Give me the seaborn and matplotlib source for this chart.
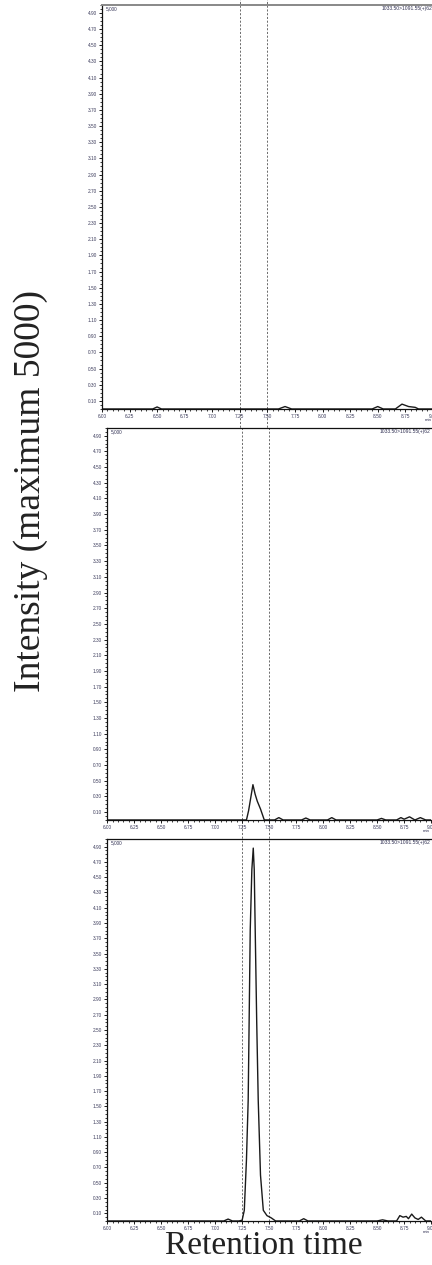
import numpy as np
import pandas as pd
import matplotlib
matplotlib.use("Agg")
import matplotlib.pyplot as plt
import seaborn as sns
from matplotlib.ticker import MultipleLocator, FixedLocator

sns.set_style("white")
plt.rcParams["font.family"] = ["Liberation Sans", "DejaVu Sans"]

# retention time (min) and intensity (thousands) for each trace
t_top = [6.00, 6.46, 6.50, 6.54, 7.60, 7.66, 7.72, 8.45, 8.50, 8.55, 8.66, 8.72,
         8.78, 8.81, 8.84, 8.87, 8.92, 9.00]
i_top = [0.0, 0.0, 0.025, 0.0, 0.0, 0.03, 0.0, 0.0, 0.03, 0.0, 0.0, 0.06,
         0.03, 0.025, 0.02, 0.0, 0.0, 0.0]

t_mid = [6.00, 7.29, 7.31, 7.35, 7.37, 7.39, 7.42, 7.455, 7.55, 7.59, 7.63, 7.80,
         7.84, 7.88, 8.04, 8.08, 8.12, 8.50, 8.54, 8.58, 8.68, 8.72, 8.75, 8.80,
         8.85, 8.90, 8.95, 9.00]
i_mid = [0.0, 0.0, 0.12, 0.45, 0.33, 0.24, 0.14, 0.0, 0.0, 0.03, 0.0, 0.0,
         0.025, 0.0, 0.0, 0.03, 0.0, 0.0, 0.02, 0.0, 0.0, 0.03, 0.01, 0.04,
         0.0, 0.03, 0.0, 0.0]

t_bot = [6.00, 7.08, 7.12, 7.16, 7.22, 7.25, 7.27, 7.29, 7.306, 7.325, 7.34, 7.353,
         7.362, 7.371, 7.385, 7.399, 7.42, 7.446, 7.48, 7.52, 7.56, 7.78, 7.82, 7.86,
         8.50, 8.55, 8.60, 8.68, 8.71, 8.74, 8.77, 8.79, 8.82, 8.85, 8.88, 8.91,
         8.95, 9.00]
i_bot = [0.0, 0.0, 0.025, 0.0, 0.0, 0.01, 0.14, 0.8, 1.58, 3.81, 4.6, 4.88,
         4.6, 3.81, 2.6, 1.58, 0.6, 0.14, 0.07, 0.04, 0.0, 0.0, 0.03, 0.0,
         0.0, 0.015, 0.0, 0.0, 0.07, 0.05, 0.06, 0.03, 0.09, 0.04, 0.02, 0.05,
         0.0, 0.0]

x_ticks = [6.00, 6.25, 6.50, 6.75, 7.00, 7.25, 7.50, 7.75, 8.00, 8.25, 8.50, 8.75, 9.00]
y_ticks = [0.10, 0.30, 0.50, 0.70, 0.90, 1.10, 1.30, 1.50, 1.70, 1.90, 2.10, 2.30,
           2.50, 2.70, 2.90, 3.10, 3.30, 3.50, 3.70, 3.90, 4.10, 4.30, 4.50, 4.70, 4.90]
window = [7.25, 7.50]
channel = "1033.50>1091.55(+)62"

traces = [(t_top, i_top), (t_mid, i_mid), (t_bot, i_bot)]
# [left, bottom, width, height] in figure fraction
boxes = [[0.236, 0.6767, 0.766, 0.3195],
         [0.248, 0.3518, 0.750, 0.3100],
         [0.248, 0.0348, 0.750, 0.3020]]

fig = plt.figure(figsize=(4.32, 12.65), dpi=100)

for k, ((t, y), box) in enumerate(zip(traces, boxes)):
    ax = fig.add_axes(box)
    df = pd.DataFrame({"time": t, "intensity": y})
    sns.lineplot(data=df, x="time", y="intensity", ax=ax, color="#1a1a1a",
                 linewidth=1.0, estimator=None)
    ax.set_xlim(6.0, 9.0)
    ax.set_ylim(0.0, 5.0)
    ax.set_xlabel("")
    ax.set_ylabel("")

    ax.xaxis.set_major_locator(FixedLocator(x_ticks))
    ax.xaxis.set_minor_locator(MultipleLocator(0.05))
    ax.yaxis.set_major_locator(FixedLocator(y_ticks))
    ax.yaxis.set_minor_locator(MultipleLocator(0.05))
    ax.set_xticklabels([f"{v:.2f}" for v in x_ticks])
    ax.set_yticklabels([f"{v:.2f}" for v in y_ticks])
    ax.tick_params(which="major", direction="out", length=2.5, width=0.7,
                   labelsize=3.4, pad=1.0, colors="#1a1a1a", labelcolor="#3a3a5a",
                   bottom=True, left=True)
    ax.tick_params(which="minor", direction="out", length=1.3, width=0.6,
                   colors="#1a1a1a", bottom=True, left=True)

    for side in ["left", "bottom", "top"]:
        ax.spines[side].set_color("#111111")
        ax.spines[side].set_linewidth(0.9)
    ax.spines["right"].set_visible(False)
    if k == 0:
        ax.spines["top"].set_color("#888888")
        ax.spines["top"].set_linewidth(1.4)

    ax.text(0.012, 0.997, "5,000", transform=ax.transAxes, fontsize=3.4,
            va="top", ha="left", color="#333355")
    ax.text(0.998, 0.997, channel, transform=ax.transAxes, fontsize=3.6,
            va="top", ha="right", color="#333355")
    ax.annotate("min", xy=(1.0, 0.0), xycoords="axes fraction",
                xytext=(-6, -9), textcoords="offset points", fontsize=3.2,
                color="#333355", annotation_clip=False)

    top = 1.02 if k == 0 else 1.0
    low = 0.0 if k == 2 else -0.055
    for w in window:
        ax.axvline(w, ymin=low, ymax=top, color="#555555", linewidth=0.6,
                   linestyle=(0, (2.5, 2)), clip_on=False, zorder=0)

fig.text(0.072, 0.612, "Intensity (maximum 5000)", rotation=90,
         fontsize=27, family="Liberation Serif", ha="center", va="center",
         color="#222222")
fig.text(0.61, 0.003, "Retention time", fontsize=24, family="Liberation Serif",
         ha="center", va="bottom", color="#222222")

fig.savefig("out.png", dpi=100)
